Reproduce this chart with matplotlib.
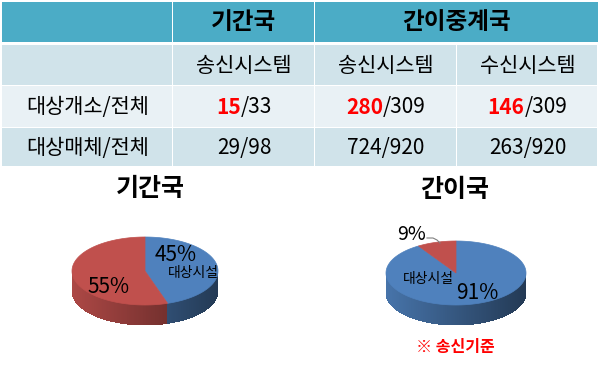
import numpy as np
import matplotlib
matplotlib.use("Agg")
import matplotlib.pyplot as plt
from matplotlib.patches import Rectangle, Polygon
from matplotlib.collections import PolyCollection
from matplotlib.colors import to_rgb

plt.rcParams['font.family'] = ['Noto Sans CJK KR', 'DejaVu Sans']

# ---- data ----
group_headers = ['기간국', '간이중계국']
sub_headers = ['송신시스템', '송신시스템', '수신시스템']
row_labels = ['대상개소/전체', '대상매체/전체']
target_sites = [15, 280, 146]
total_sites = [33, 309, 309]
target_media = [29, 724, 263]
total_media = [98, 920, 920]

pie_titles = ['기간국', '간이국']
pie_labels = ['대상시설', '기타']
pie_values = [[45, 55], [91, 9]]
note_text = '※ 송신기준'

# ---- figure ----
fig = plt.figure(figsize=(6.0, 3.65), dpi=100)
ax = fig.add_axes([0, 0, 1, 1])
ax.set_xlim(0, 600)
ax.set_ylim(365, 0)
ax.axis('off')

TEAL = '#4BACC6'
ROW_A = '#D0E3EA'
ROW_B = '#E9F1F5'

col_x = [2, 173, 315, 457, 598]
row_y = [2, 42, 45, 86, 128, 167]

# header row
ax.add_patch(Rectangle((col_x[0], row_y[0]), col_x[1] - col_x[0] - 1, row_y[1] - row_y[0], fc=TEAL, ec='none'))
ax.add_patch(Rectangle((col_x[1], row_y[0]), col_x[2] - col_x[1] - 1, row_y[1] - row_y[0], fc=TEAL, ec='none'))
ax.add_patch(Rectangle((col_x[2], row_y[0]), col_x[4] - col_x[2], row_y[1] - row_y[0], fc=TEAL, ec='none'))
ax.text((col_x[1] + col_x[2]) / 2, 22, group_headers[0], ha='center', va='center', fontsize=17, fontweight='bold', color='black')
ax.text((col_x[2] + col_x[4]) / 2, 22, group_headers[1], ha='center', va='center', fontsize=17, fontweight='bold', color='black')

# body rows
body_rows = [(row_y[2], row_y[3], ROW_A), (row_y[3], row_y[4], ROW_B), (row_y[4], row_y[5], ROW_A)]
for (y0, y1, c) in body_rows:
    for j in range(4):
        ax.add_patch(Rectangle((col_x[j], y0), col_x[j + 1] - col_x[j] - 1, y1 - y0 - 1, fc=c, ec='none'))

FS = 15
for j, s in enumerate(sub_headers):
    ax.text((col_x[j + 1] + col_x[j + 2]) / 2, (row_y[2] + row_y[3]) / 2, s, ha='center', va='center', fontsize=FS)

ax.text((col_x[0] + col_x[1]) / 2, (row_y[3] + row_y[4]) / 2, row_labels[0], ha='center', va='center', fontsize=FS)
ax.text((col_x[0] + col_x[1]) / 2, (row_y[4] + row_y[5]) / 2, row_labels[1], ha='center', va='center', fontsize=FS)

renderer = fig.canvas.get_renderer()
px_per_unit = fig.bbox.width / 600.0
for j in range(3):
    cx = (col_x[j + 1] + col_x[j + 2]) / 2
    cy = (row_y[3] + row_y[4]) / 2
    t1 = ax.text(0, cy, str(target_sites[j]), ha='right', va='center', fontsize=FS, fontweight='bold', color='#FF0000')
    t2 = ax.text(0, cy, '/' + str(total_sites[j]), ha='left', va='center', fontsize=FS, color='black')
    w1 = t1.get_window_extent(renderer).width / px_per_unit
    w2 = t2.get_window_extent(renderer).width / px_per_unit
    x0 = cx - (w1 + w2) / 2 + w1
    t1.set_x(x0)
    t2.set_x(x0)
    ax.text(cx, (row_y[4] + row_y[5]) / 2, f'{target_media[j]}/{total_media[j]}', ha='center', va='center', fontsize=FS)

# ---- 3D pies ----
BLUE = '#4F81BD'
RED = '#C0504D'
slice_colors = [BLUE, RED]


def shade(c, k):
    r, g, b = to_rgb(c)
    return (min(r * k, 1), min(g * k, 1), min(b * k, 1))


def draw_pie(values, cx, cy, rx, ry, depth):
    vals = np.asarray(values, dtype=float)
    fr = vals / vals.sum()
    acc = np.cumsum(fr) * 360
    # clockwise from 12 o'clock
    bounds = 90 - 360 * np.concatenate([[0], np.cumsum(fr)])

    def slice_of(theta):
        t = (90 - theta) % 360
        return min(int(np.searchsorted(acc, t, side='right')), len(vals) - 1)

    # side wall (front half)
    th = np.linspace(180, 360, 241)
    polys, cols = [], []
    for a, b in zip(th[:-1], th[1:]):
        m = (a + b) / 2
        idx = slice_of(m)
        ra, rb = np.radians(a), np.radians(min(b + 0.6, 360))
        xa, ya = cx + rx * np.cos(ra), cy - ry * np.sin(ra)
        xb, yb = cx + rx * np.cos(rb), cy - ry * np.sin(rb)
        pos = (np.cos(np.radians(m)) + 1) / 2
        k = 0.9 - 0.45 * pos
        polys.append([(xa, ya), (xb, yb), (xb, yb + depth), (xa, ya + depth)])
        cols.append(shade(slice_colors[idx], k))
    ax.add_collection(PolyCollection(polys, facecolors=cols, edgecolors='none', antialiased=False))
    # top faces
    for i in range(len(vals)):
        t0, t1 = bounds[i], bounds[i + 1]
        ang = np.radians(np.linspace(t0, t1, max(int(abs(t1 - t0)), 2) + 1))
        pts = [(cx, cy)] + [(cx + rx * np.cos(a), cy - ry * np.sin(a)) for a in ang]
        ax.add_patch(Polygon(pts, closed=True, fc=slice_colors[i], ec=slice_colors[i], lw=0.5))


draw_pie(pie_values[0], 145, 271, 73, 34, 20)
draw_pie(pie_values[1], 456, 273, 70, 32, 20)

# titles
ax.text(150, 189, pie_titles[0], ha='center', va='center', fontsize=18, fontweight='bold')
ax.text(455, 190, pie_titles[1], ha='center', va='center', fontsize=18, fontweight='bold')

# left pie labels
ax.text(176, 255, f'{pie_values[0][0]}%', ha='center', va='center', fontsize=15)
ax.text(193, 273, pie_labels[0], ha='center', va='center', fontsize=10)
ax.text(109, 287, f'{pie_values[0][1]}%', ha='center', va='center', fontsize=15)

# right pie labels
ax.text(411, 234, f'{pie_values[1][1]}%', ha='center', va='center', fontsize=14)
ax.plot([427, 433, 437, 440], [238, 238, 240, 243], color='#808080', lw=0.8)
ax.text(428, 279, pie_labels[0], ha='center', va='center', fontsize=10)
ax.text(477, 293, f'{pie_values[1][0]}%', ha='center', va='center', fontsize=15)

ax.text(455, 347, note_text, ha='center', va='center', fontsize=11.5, fontweight='bold', color='#FF0000')

fig.savefig('out.png', dpi=100, facecolor='white')
